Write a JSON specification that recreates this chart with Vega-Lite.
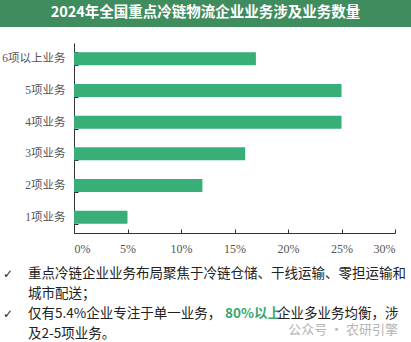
{
  "$schema": "https://vega.github.io/schema/vega-lite/v6.json",
  "padding": 0,
  "background": "white",
  "spacing": 10,
  "config": {"view": {"stroke": null}},
  "vconcat": [
    {
      "width": 411,
      "height": 27,
      "view": {"fill": "#3f8c5e", "stroke": null},
      "data": {"values": [{"title": "2024年全国重点冷链物流企业业务涉及业务数量"}]},
      "mark": {"type": "text", "color": "white", "font": "Noto Sans CJK SC", "fontSize": 14.5, "fontWeight": "bold", "baseline": "middle", "dy": -1},
      "encoding": {"text": {"field": "title"}}
    },
    {
      "width": 411,
      "height": 190,
      "data": {"values": [
        {"cat": "6项以上业务", "v": 0.17},
        {"cat": "5项业务", "v": 0.25},
        {"cat": "4项业务", "v": 0.25},
        {"cat": "3项业务", "v": 0.16},
        {"cat": "2项业务", "v": 0.12},
        {"cat": "1项业务", "v": 0.05}
      ]},
      "mark": {"type": "bar", "color": "#38ae78"},
      "encoding": {
        "y": {
          "field": "cat", "type": "nominal", "sort": null,
          "scale": {"paddingInner": 0.59, "paddingOuter": 0.295},
          "axis": {"title": null, "offset": -74, "tickBand": "extent", "tickSize": -4, "labelPadding": 13,
            "domainColor": "#333", "tickColor": "#333", "labelFont": "Liberation Serif, Noto Sans CJK SC",
            "labelFontSize": 11.5, "labelColor": "#555"}
        },
        "x": {
          "field": "v", "type": "quantitative",
          "scale": {"domain": [0, 0.3], "range": [74, 395]},
          "axis": {"title": null, "format": ".0%", "values": [0, 0.05, 0.1, 0.15, 0.2, 0.25, 0.3],
            "tickSize": -4, "labelPadding": 14, "grid": false, "domainColor": "#333", "tickColor": "#333",
            "labelFont": "Liberation Serif", "labelFontSize": 12, "labelColor": "#555"}
        }
      }
    },
    {
      "width": 411,
      "height": 80,
      "data": {"values": [
        {"line": 1, "seg": "a", "text": "重点冷链企业业务布局聚焦于冷链仓储、干线运输、零担运输和"},
        {"line": 2, "seg": "a", "text": "城市配送；"},
        {"line": 3, "seg": "a", "text": "仅有5.4%企业专注于单一业务，"},
        {"line": 3, "seg": "b", "text": "80%以上"},
        {"line": 3, "seg": "c", "text": "企业多业务均衡，涉"},
        {"line": 4, "seg": "a", "text": "及2-5项业务。"},
        {"line": 4, "seg": "w", "text": "公众号 · 农研引擎"},
        {"line": 1, "seg": "k", "text": "✓"},
        {"line": 3, "seg": "k", "text": "✓"}
      ]},
      "encoding": {
        "y": {"field": "line", "type": "ordinal", "axis": null, "scale": {"domain": [1, 2, 3, 4]}},
        "x": {"datum": 0, "type": "quantitative", "scale": {"domain": [0, 1]}, "axis": null},
        "text": {"field": "text"}
      },
      "layer": [
        {"transform": [{"filter": "datum.seg == 'k'"}],
         "mark": {"type": "text", "align": "left", "baseline": "middle", "dx": 3, "font": "DejaVu Sans", "fontSize": 12, "color": "#222"}},
        {"transform": [{"filter": "datum.seg == 'a'"}],
         "mark": {"type": "text", "align": "left", "baseline": "middle", "dx": 28, "font": "Noto Sans CJK SC", "fontSize": 13.5, "color": "#222"}},
        {"transform": [{"filter": "datum.seg == 'b'"}],
         "mark": {"type": "text", "align": "left", "baseline": "middle", "dx": 225, "font": "Noto Sans CJK SC", "fontSize": 13.5, "fontWeight": "bold", "color": "#3aa86e"}},
        {"transform": [{"filter": "datum.seg == 'c'"}],
         "mark": {"type": "text", "align": "left", "baseline": "middle", "dx": 277, "font": "Noto Sans CJK SC", "fontSize": 13.5, "color": "#222"}},
        {"transform": [{"filter": "datum.seg == 'w'"}],
         "mark": {"type": "text", "align": "right", "baseline": "middle", "dx": 398, "dy": -4, "font": "Noto Sans CJK SC", "fontSize": 13, "color": "#b5b5b5"}}
      ]
    }
  ]
}
